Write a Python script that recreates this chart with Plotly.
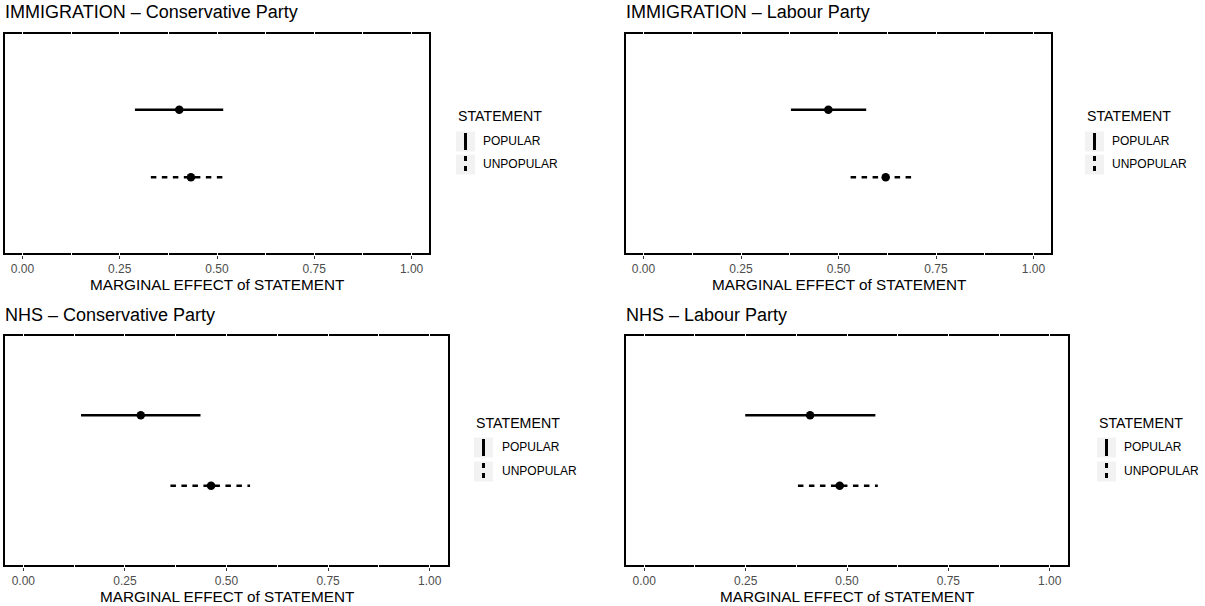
import plotly.graph_objects as go

# ---------------- data ----------------
panel_titles = ["IMMIGRATION – Conservative Party", "IMMIGRATION – Labour Party",
                "NHS – Conservative Party", "NHS – Labour Party"]
statements = ["POPULAR", "UNPOPULAR"]

imm_con_est = [0.403, 0.433]
imm_con_lo = [0.289, 0.330]
imm_con_hi = [0.516, 0.527]

imm_lab_est = [0.474, 0.621]
imm_lab_lo = [0.378, 0.531]
imm_lab_hi = [0.571, 0.698]

nhs_con_est = [0.289, 0.462]
nhs_con_lo = [0.142, 0.362]
nhs_con_hi = [0.436, 0.558]

nhs_lab_est = [0.409, 0.482]
nhs_lab_lo = [0.249, 0.379]
nhs_lab_hi = [0.570, 0.576]

tick_vals = [0.0, 0.25, 0.5, 0.75, 1.0]
tick_text = ["0.00", "0.25", "0.50", "0.75", "1.00"]
minor_vals = [0.125, 0.375, 0.625, 0.875]
x_title = "MARGINAL EFFECT of STATEMENT"
legend_title = "STATEMENT"

panel_data = [
    (imm_con_est, imm_con_lo, imm_con_hi),
    (imm_lab_est, imm_lab_lo, imm_lab_hi),
    (nhs_con_est, nhs_con_lo, nhs_con_hi),
    (nhs_lab_est, nhs_lab_lo, nhs_lab_hi),
]

# ---------------- layout geometry (pixels) ----------------
W, H = 1205, 606
FONT = "Liberation Sans"
# panel boxes: x0, x1, y0(top), y1(bottom)
boxes = [(3, 431, 32, 255), (624, 1053, 32, 255),
         (3, 450, 334, 567), (624, 1070, 334, 567)]
# legend: title left x, key x0, label x, title y, row ys
legends = [(456, 456, 481, 116, (141, 164)),
           (1085, 1085, 1110, 116, (141, 164)),
           (474, 474, 500, 423, (447, 471)),
           (1097, 1097, 1122, 423, (447, 471))]
title_y = [12, 12, 315, 315]
axis_title_y = [284, 284, 596, 596]

def px(x):
    return x / W

def py(y):
    return 1 - y / H

dash_styles = {"POPULAR": "solid", "UNPOPULAR": "5.5px,5.5px"}

fig = go.Figure()
shapes = []
annotations = []

for i, (est, lo, hi) in enumerate(panel_data):
    n = i + 1
    xa = "x" if n == 1 else f"x{n}"
    ya = "y" if n == 1 else f"y{n}"
    for s, e, l, h in zip(statements, est, lo, hi):
        fig.add_trace(go.Scatter(
            x=[l, h], y=[s, s], mode="lines",
            line=dict(color="black", width=2.6, dash=dash_styles[s]),
            xaxis=xa, yaxis=ya, showlegend=False, hoverinfo="skip"))
        fig.add_trace(go.Scatter(
            x=[e], y=[s], mode="markers",
            marker=dict(color="black", size=8.5),
            xaxis=xa, yaxis=ya, showlegend=False))

    x0, x1, y0, y1 = boxes[i]
    wpx, hpx = x1 - x0, y1 - y0
    fig.update_layout(**{
        f"xaxis{'' if n == 1 else n}": dict(
            domain=[px(x0), px(x1)], anchor=ya, range=[-0.05, 1.05],
            tickmode="array", tickvals=tick_vals, ticktext=tick_text,
            showgrid=True, gridcolor="white", gridwidth=1.1,
            minor=dict(tickmode="array", tickvals=minor_vals, showgrid=True,
                       gridcolor="white", gridwidth=0.6, ticks=""),
            zeroline=False, showline=False,
            ticks="outside", ticklen=3, tickwidth=1, tickcolor="#333333",
            tickfont=dict(family=FONT, size=12, color="#4D4D4D"),
        ),
        f"yaxis{'' if n == 1 else n}": dict(
            domain=[py(y1), py(y0)], anchor=xa, type="category",
            categoryorder="array", categoryarray=["UNPOPULAR", "POPULAR"],
            range=[-1.15, 2.15], showticklabels=False, showgrid=False,
            zeroline=False, showline=False, ticks="",
        ),
    })
    # panel border (drawn below grid so white grid lines cut it, as in reference)
    bw = 2
    shapes.append(dict(
        type="rect", xref=f"{xa} domain", yref=f"{ya} domain",
        x0=(bw / 2) / wpx, x1=1 - (bw / 2) / wpx,
        y0=(bw / 2) / hpx, y1=1 - (bw / 2) / hpx,
        line=dict(color="black", width=bw), fillcolor="rgba(0,0,0,0)",
        layer="below"))

    # panel title
    annotations.append(dict(
        text=panel_titles[i], xref="paper", yref="paper",
        x=px(x0), y=py(title_y[i]), xanchor="left", yanchor="middle",
        showarrow=False, font=dict(family=FONT, size=18, color="black")))
    # axis title
    annotations.append(dict(
        text=x_title, xref="paper", yref="paper",
        x=px((x0 + x1) / 2), y=py(axis_title_y[i]), xanchor="center",
        yanchor="middle", showarrow=False,
        font=dict(family=FONT, size=15.3, color="black")))

    # legend
    tx, kx, lx, ty, rows = legends[i]
    annotations.append(dict(
        text=legend_title, xref="paper", yref="paper",
        x=px(tx), y=py(ty), xanchor="left", yanchor="middle",
        showarrow=False, font=dict(family=FONT, size=14.2, color="black")))
    kw, kh = 19, 21
    for s, ry in zip(statements, rows):
        shapes.append(dict(
            type="rect", xref="paper", yref="paper",
            x0=px(kx), x1=px(kx + kw), y0=py(ry + kh / 2),
            y1=py(ry - kh / 2 + 1), fillcolor="#F2F2F2",
            line=dict(width=0), layer="above"))
        shapes.append(dict(
            type="line", xref="paper", yref="paper",
            x0=px(kx + kw / 2), x1=px(kx + kw / 2),
            y0=py(ry - 8), y1=py(ry + 9),
            line=dict(color="black", width=3,
                      dash="solid" if s == "POPULAR" else "5px,5px"),
            layer="above"))
        annotations.append(dict(
            text=s, xref="paper", yref="paper",
            x=px(lx), y=py(ry), xanchor="left", yanchor="middle",
            showarrow=False, font=dict(family=FONT, size=12, color="black")))

fig.update_layout(
    width=W, height=H, margin=dict(l=0, r=0, t=0, b=0),
    paper_bgcolor="white", plot_bgcolor="white",
    showlegend=False, shapes=shapes, annotations=annotations,
    font=dict(family=FONT),
)

fig.write_html(
    "out.html",
    config={"displayModeBar": False},
    post_script="document.body.style.margin='0px';document.body.style.overflow='hidden';",
)
